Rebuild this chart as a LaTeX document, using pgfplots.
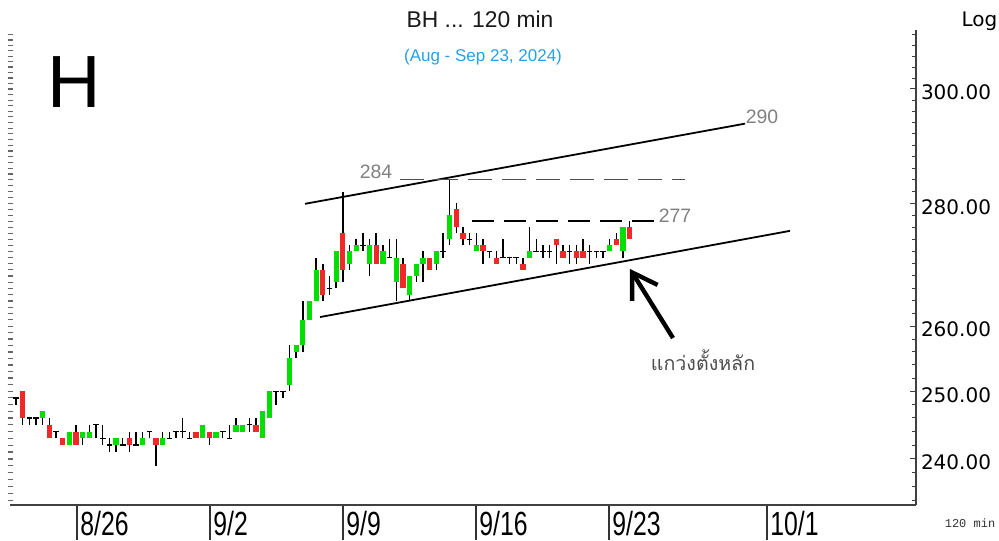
\documentclass[border=0pt]{standalone}
\usepackage{fontspec}
\setmainfont{Liberation Sans}
\newfontfamily\dejavu{DejaVu Sans}
\newfontfamily\thaifont[Script=Thai]{Loma}
\newfontfamily\mono{Liberation Mono}
\usepackage{pgfplots}
\pgfplotsset{compat=1.18}
\usepackage{pgfplotstable}
\usetikzlibrary{arrows.meta}
\definecolor{cgreen}{RGB}{0,224,0}
\definecolor{cred}{RGB}{240,40,40}
\definecolor{subblue}{RGB}{38,160,230}
\pgfplotstableread{
i O H L C
0 249 249 248 249
1 250 250 245 246
2 246 246 245 246
3 246 246 245 246
4 246 247 245 247
5 245 246 243 243
6 244 244 243 244
7 243 243 242 242
8 242 244 242 244
9 244 245 242 242
10 243 244 242 244
11 243 245 243 244
12 245 245 243 245
13 243 245 242 243
14 242 243 241 242
15 242 243 241 243
16 242 243 242 242
17 243 244 241 242
18 242 244 242 242
19 242 244 242 243
20 244 244 243 244
21 243 243 239 242
22 242 244 242 243
23 243 244 243 243
24 244 244 243 244
25 244 246 243 244
26 243 244 243 243
27 244 244 243 243
28 243 245 243 245
29 244 244 242 243
30 243 244 243 244
31 244 244 243 244
32 243 245 243 243
33 244 246 244 245
34 244 245 244 245
35 245 246 244 245
36 245 246 244 244
37 243 247 243 247
38 246 250 246 250
39 250 250 248 250
40 250 250 249 250
41 251 257 250 255
42 256 257 255 257
43 257 264 256 261
44 261 264 261 264
45 264 271 264 269
46 269 270 264 265
47 266 268 265 266
48 267 272 266 272
49 275 282 267 269
50 270 273 269 272
51 272 274 272 273
52 273 275 272 273
53 270 274 268 273
54 273 275 270 270
55 270 273 270 272
56 271 274 271 271
57 267 274 264 271
58 270 271 266 266
59 265 268 264 268
60 268 270 267 270
61 270 272 267 271
62 271 271 269 269
63 270 272 269 272
64 272 275 271 272
65 274 284 273 278
66 279 280 275 276
67 275 276 273 274
68 274 275 273 274
69 272 275 272 273
70 273 274 270 272
71 272 272 271 272
72 271 272 270 270
73 271 274 271 271
74 271 271 270 271
75 271 271 270 271
76 270 271 269 269
77 271 276 271 272
78 272 274 272 272
79 272 273 271 272
80 272 273 271 272
81 274 274 270 273
82 272 273 271 271
83 272 273 270 272
84 272 273 270 271
85 272 274 271 271
86 272 273 270 272
87 272 272 271 272
88 272 272 271 272
89 272 274 272 273
90 274 275 273 273
91 272 276 271 276
92 276 277 274 274
}\candles
\begin{document}
\begin{tikzpicture}
\path[use as bounding box] (0,0) rectangle (499.5pt,270pt);
% date separators below the axis
\begin{axis}[at={(5pt,17.5pt)}, anchor=south west, scale only axis,
  width=453pt, height=237.5pt,
  xmin=-0.9, xmax=134.93, ymode=log, ymin=233.44, ymax=310.9,
  axis y line=none, axis x line*=bottom, axis line style={draw=none},
  xtick={9.15,29.09,49.03,68.97,88.91,112.59}, xticklabels={},
  tick align=outside, major tick length=17.5pt,
  tick style={black!80, line width=0.6pt}]
\end{axis}
% left dotted ticks
\begin{axis}[at={(5pt,17.5pt)}, anchor=south west, scale only axis,
  width=453pt, height=237.5pt,
  xmin=-0.9, xmax=134.93, ymode=log, ymin=233.44, ymax=310.9,
  axis x line=none, axis y line*=left, axis line style={draw=none},
  ytick={234,235,...,310}, yticklabels={},
  tick align=center, major tick length=2.5pt,
  tick style={black!60, line width=0.6pt}]
\end{axis}
\begin{axis}[at={(5pt,17.5pt)}, anchor=south west, scale only axis,
  width=453pt, height=237.5pt,
  xmin=-0.9, xmax=134.93, ymode=log, ymin=233.44, ymax=310.9,
  axis x line*=bottom, axis y line*=right,
  axis line style={line width=0.7pt, black!75},
  xtick={9.15,29.09,49.03,68.97,88.91,112.59},
  xticklabels={\scalebox{0.74}[1]{8/26},\scalebox{0.74}[1]{9/2},\scalebox{0.74}[1]{9/9},\scalebox{0.74}[1]{9/16},\scalebox{0.74}[1]{9/23},\scalebox{0.74}[1]{10/1}},
  xtick style={draw=none},
  xticklabel style={anchor=north west, inner sep=0pt, xshift=1.5pt, yshift=-3pt, font=\fontsize{16.75}{18}\selectfont},
  ytick={240,250,260,280,300},
  yticklabels={240.00,250.00,260.00,280.00,300.00},
  minor ytick={234,236,...,310},
  tick align=inside, major tick length=3pt, minor tick length=2pt,
  ytick style={black!75, line width=0.5pt},
  yticklabel style={font=\dejavu\fontsize{10}{12}\selectfont, anchor=west, inner sep=0pt, xshift=2.3pt, yshift=-1.75pt},
  clip=false]
% wicks
\addplot[mark=none, draw=none, error bars/.cd, y dir=plus, y explicit, error mark=none,
  error bar style={draw=black, line width=0.7pt}]
  table[x=i, y=L, y error plus expr=\thisrow{H}-\thisrow{L}] {\candles};
% green bodies
\addplot[mark=none, draw=none, restrict expr to domain={\thisrow{C}-\thisrow{O}}{0.5:100},
  error bars/.cd, y dir=plus, y explicit, error mark=none,
  error bar style={draw=cgreen, line width=2.65pt}]
  table[x=i, y=O, y error plus expr=\thisrow{C}-\thisrow{O}] {\candles};
% red bodies
\addplot[mark=none, draw=none, restrict expr to domain={\thisrow{O}-\thisrow{C}}{0.5:100},
  error bars/.cd, y dir=plus, y explicit, error mark=none,
  error bar style={draw=cred, line width=2.65pt}]
  table[x=i, y=C, y error plus expr=\thisrow{O}-\thisrow{C}] {\candles};
% doji
\addplot[only marks, mark=-, mark size=1.4pt, mark options={line width=0.7pt, black},
  restrict expr to domain={\thisrow{O}-\thisrow{C}}{-0.5:0.5}]
  table[x=i, y=O] {\candles};
% trend lines
\addplot[black, line width=0.9pt, mark=none] coordinates {(43.33,279.92) (109.3,293.8)};
\addplot[black, line width=0.9pt, mark=none] coordinates {(45.58,261.45) (116.04,275.4)};
\addplot[black!70, line width=0.6pt, mark=none, dash pattern=on 12pt off 5pt] coordinates {(57.57,284) (100.3,284)};
\addplot[black, line width=1.2pt, mark=none, dash pattern=on 11pt off 5pt] coordinates {(68.37,277) (95.8,277)};
\node[text=black!50, font=\fontsize{9.7}{11}\selectfont] at (axis cs:53.97,285.37) {284};
\node[text=black!50, font=\fontsize{9.7}{11}\selectfont] at (axis cs:98.8,277.9) {277};
\node[text=black!50, font=\fontsize{9.7}{11}\selectfont] at (axis cs:111.84,295.05) {290};
\node[text=black!70, font=\thaifont\fontsize{9.8}{12}\selectfont] at (axis cs:103.0,254.76) {แกว่งตั้งหลัก};
\draw[line width=2.2pt, -{Straight Barb[length=12pt, width=15pt]}] (axis cs:98.5,258.16) -- (axis cs:92.05,269.14);
\end{axis}
\node[font=\fontsize{11.4}{13}\selectfont, text=black!90] at (240pt,260.25pt) {BH ... 120 min};
\node[font=\fontsize{8.5}{10}\selectfont, text=subblue] at (241.5pt,241.5pt) {(Aug - Sep 23, 2024)};
\node[font=\fontsize{37}{40}\selectfont, inner sep=0pt] at (37pt,229pt) {H};
\node[font=\dejavu\fontsize{10}{12}\selectfont] at (489.75pt,259.5pt) {Log};
\node[font=\mono\fontsize{6}{7}\selectfont, text=black!80] at (485pt,8.5pt) {120 min};
\end{tikzpicture}
\end{document}
